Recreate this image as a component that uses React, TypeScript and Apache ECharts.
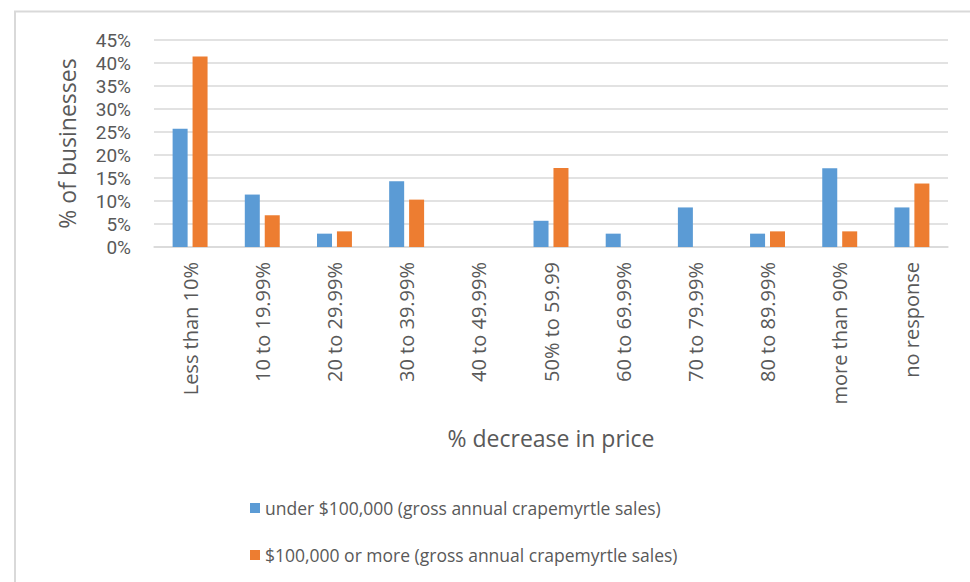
import React, { useEffect, useRef } from "react";
import * as echarts from "echarts";

const categories = [
  "Less than 10%",
  "10 to 19.99%",
  "20 to 29.99%",
  "30 to 39.99%",
  "40 to 49.99%",
  "50% to 59.99",
  "60 to 69.99%",
  "70 to 79.99%",
  "80 to 89.99%",
  "more than 90%",
  "no response",
];
const underValues = [25.7, 11.4, 2.9, 14.3, 0, 5.7, 2.9, 8.6, 2.9, 17.1, 8.6];
const overValues = [41.4, 6.9, 3.4, 10.3, 0, 17.2, 0, 0, 3.4, 3.4, 13.8];
const seriesNames = [
  "under $100,000 (gross annual crapemyrtle sales)",
  "$100,000 or more (gross annual crapemyrtle sales)",
];
const yTicks = { min: 0, max: 45, interval: 5 };

const FONT = "'Open Sans', 'Noto Sans', sans-serif";
const TEXT = "#595959";

export default function App() {
  const ref = useRef<HTMLDivElement>(null);
  useEffect(() => {
    document.body.style.margin = "0";
    if (!ref.current) return;
    const chart = echarts.init(ref.current, null, { renderer: "svg" });
    chart.setOption({
      animation: false,
      backgroundColor: "#ffffff",
      textStyle: { fontFamily: FONT, color: TEXT },
      graphic: [
        {
          type: "rect",
          shape: { x: 15, y: 11.5, width: 1000, height: 620 },
          style: { fill: "none", stroke: "#d9d9d9", lineWidth: 2 },
          silent: true,
        },
      ],
      grid: { left: 154, right: 22, top: 40, bottom: 335, containLabel: false },
      legend: {
        orient: "vertical",
        left: 245,
        top: 493,
        itemWidth: 10,
        itemHeight: 10,
        itemGap: 27,
        icon: "rect",
        textStyle: { fontFamily: FONT, fontSize: 17.5, color: TEXT, lineHeight: 20 },
        data: seriesNames,
      },
      xAxis: {
        type: "category",
        data: categories,
        name: "% decrease in price",
        nameLocation: "middle",
        nameGap: 179,
        nameTextStyle: { fontFamily: FONT, fontSize: 23, color: TEXT },
        axisLine: { lineStyle: { color: "#d9d9d9", width: 1.5 } },
        axisTick: { show: false },
        axisLabel: {
          rotate: 90,
          margin: 15,
          fontFamily: FONT,
          fontSize: 20,
          color: TEXT,
          interval: 0,
        },
      },
      yAxis: {
        type: "value",
        min: yTicks.min,
        max: yTicks.max,
        interval: yTicks.interval,
        name: "% of businesses",
        nameLocation: "middle",
        nameGap: 76,
        nameTextStyle: { fontFamily: FONT, fontSize: 23, color: TEXT },
        axisLine: { show: false },
        axisTick: { show: false },
        axisLabel: {
          formatter: "{value}%",
          margin: 23,
          fontFamily: "Roboto, 'Open Sans', sans-serif",
          fontSize: 19,
          lineHeight: 20,
          color: TEXT,
        },
        splitLine: { lineStyle: { color: "#d9d9d9", width: 1.5 } },
      },
      series: [
        {
          name: seriesNames[0],
          type: "bar",
          data: underValues,
          barWidth: 15,
          barGap: "33%",
          itemStyle: { color: "#5B9BD5" },
        },
        {
          name: seriesNames[1],
          type: "bar",
          data: overValues,
          barWidth: 15,
          barGap: "33%",
          itemStyle: { color: "#ED7D31" },
        },
      ],
    });
    return () => chart.dispose();
  }, []);
  return <div ref={ref} style={{ width: 970, height: 582 }} />;
}
